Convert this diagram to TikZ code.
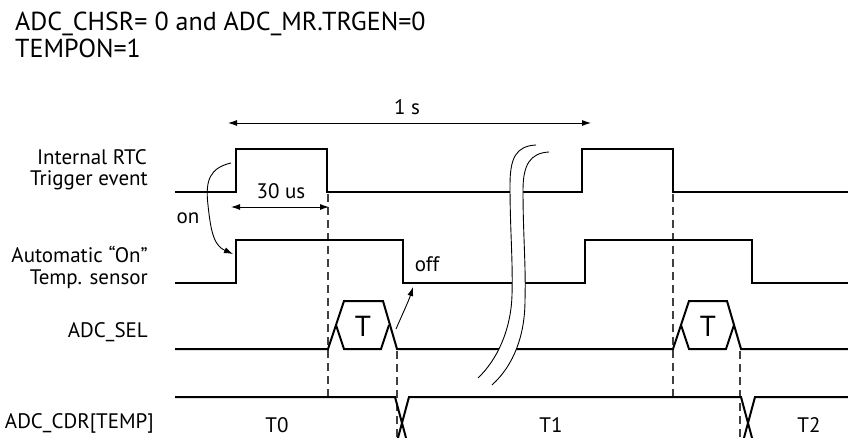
\documentclass[tikz,border=0pt]{standalone}
\usepackage{fontspec}
\setmainfont{PT Sans}
\usetikzlibrary{arrows.meta}
\begin{document}
\begin{tikzpicture}[x=1pt,y=-1pt,
 sig/.style={line width=2pt},
 thin/.style={line width=0.9pt},
 guide/.style={line width=1.1pt, dash pattern=on 8pt off 5pt, black!75},
 lbl/.style={font=\fontsize{21}{25}\selectfont, inner sep=0pt},
 ttl/.style={font=\fontsize{26}{30}\selectfont, inner sep=0pt},
 big/.style={font=\fontsize{29}{33}\selectfont, inner sep=0pt},
 tipx/.style={-{Latex[length=9pt,width=6pt]}},
 tipboth/.style={{Latex[length=9pt,width=6pt]}-{Latex[length=9pt,width=6pt]}},
]
\useasboundingbox (0,0) rectangle (848,438);
\clip (0,0) rectangle (848,438);

% titles
\node[ttl, anchor=base west] (t1) at (15,31) {ADC\_CHSR= 0 and ADC\_MR.TRGEN=0};
\node[ttl, anchor=base west] (t2) at (15,57.5) {TEMPON=1};

% row labels
\node[lbl, anchor=base east] (l1a) at (147,165) {Internal RTC};
\node[lbl, anchor=base east] (l1b) at (148,186) {Trigger event};
\node[lbl, anchor=base east] (l2a) at (148,262) {Automatic “On”};
\node[lbl, anchor=base east] (l2b) at (148,284) {Temp. sensor};
\node[lbl, anchor=base east] (l3) at (148,337) {ADC\_SEL};
\node[lbl, anchor=base east] (l4) at (154,428) {ADC\_CDR[TEMP]};

% guides
\draw[guide] (328,194) -- (328,397);
\draw[guide] (397,351) -- (397,438);
\draw[guide] (673,194) -- (673,397);
\draw[guide] (740,351) -- (740,438);

% signals
\draw[sig] (175,192) -- (236,192) -- (236,149) -- (327,149) -- (327,192) -- (582,192) -- (582,149) -- (673,149) -- (673,192) -- (849,192);
\draw[sig] (175,283) -- (236,283) -- (236,240) -- (403,240) -- (403,283) -- (585,283) -- (585,240) -- (752,240) -- (752,283) -- (849,283);
\draw[sig] (175,349) -- (328,349) -- (344,301) -- (383,301) -- (397,349) -- (673,349) -- (689,301) -- (727,301) -- (741,349) -- (849,349);
\draw[sig] (336,325) -- (344,349) -- (381,349) -- (389,325);
\draw[sig] (681,325) -- (689,349) -- (726,349) -- (734,325);
\draw[sig] (175,397) -- (395,397) -- (409,449);
\draw[sig] (395,449) -- (409,397) -- (741,397) -- (755,449);
\draw[sig] (741,449) -- (755,397) -- (849,397);

\node[big] (T1x) at (363,326) {T};
\node[big] (T2x) at (708,326) {T};
\node[lbl, anchor=base] (v0) at (277,432) {T0};
\node[lbl, anchor=base] (v1) at (551,432) {T1};
\node[lbl, anchor=base] (v2) at (809,432) {T2};

% break mark
\fill[white] (536,145) .. controls (516,146) and (510,158) .. (510,185)
  .. controls (510,230) and (513,260) .. (512,295)
  .. controls (511,330) and (497,360) .. (478,378)
  -- (492,385)
  .. controls (514,365) and (525,335) .. (525,300)
  .. controls (526,265) and (523,235) .. (523,190)
  .. controls (523,165) and (530,153) .. (549,152) -- cycle;
\draw[thin] (536,145) .. controls (516,146) and (510,158) .. (510,185)
  .. controls (510,230) and (513,260) .. (512,295)
  .. controls (511,330) and (497,360) .. (478,378);
\draw[thin] (549,152) .. controls (530,153) and (523,165) .. (523,190)
  .. controls (523,235) and (526,265) .. (525,300)
  .. controls (525,335) and (514,365) .. (492,385);

% annotations
\coordinate (s1a) at (228,123);
\coordinate (s1b) at (591,123);
\draw[thin, tipboth] (s1a) -- (s1b);
\node[lbl, anchor=base] (s1) at (407,115) {1 s};

\coordinate (u1a) at (231,207);
\coordinate (u1b) at (329,207);
\draw[thin, tipboth] (u1a) -- (u1b);
\node[lbl, anchor=base] (u1) at (281,199) {30 us};

\node[lbl, anchor=base] (on) at (188,224) {on};
\coordinate (ona) at (231,163);
\coordinate (onb) at (233,254);
\draw[thin, tipx] (ona) .. controls (210,168) and (205,180) .. (208,205)
  .. controls (211,235) and (215,246) .. (onb);

\node[lbl, anchor=base] (off) at (427,272) {off};
\coordinate (ofa) at (396,329);
\coordinate (ofb) at (413,287);
\draw[thin, tipx] (ofa) .. controls (403,313) and (409,300) .. (ofb);
\end{tikzpicture}
\end{document}
